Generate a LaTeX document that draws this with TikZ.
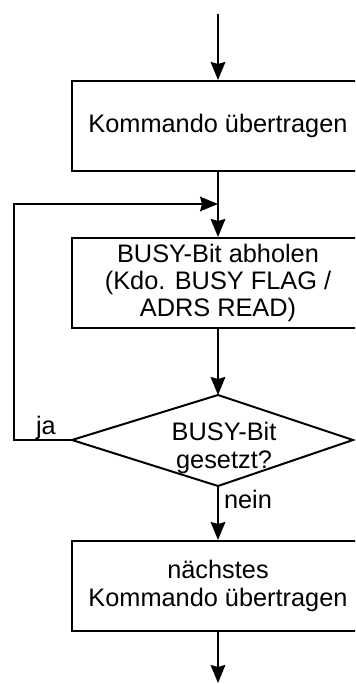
\documentclass[tikz,border=0pt]{standalone}
\usepackage{fontspec}
\setmainfont{Liberation Sans}
\usetikzlibrary{arrows.meta}

\tikzset{every picture/.style={line width=1.5pt}}
\tikzset{
  procbox/.style={draw, rectangle, minimum width=219pt, minimum height=67.5pt, align=center, inner sep=0pt, font=\fontsize{19}{20.5}\selectfont},
  flow/.style={-{Stealth[length=13.5pt,width=11pt,inset=1.5pt]}},
  lbl/.style={font=\fontsize{19}{20.5}\selectfont, inner sep=0pt}
}

\begin{document}
\begin{tikzpicture}[x=0.75pt,y=0.75pt,yscale=-1,xscale=1]
	\clip (0,0) rectangle (355,684); %picture window

	% Process boxes
	\coordinate (in) at (218,14);
	\node[procbox] (send) at (218,126) {Kommando übertragen};
	\coordinate (merge) at (218,204);
	\node[procbox] (busy) at (218,283) {BUSY-Bit abholen\\(Kdo. BUSY FLAG /\\ADRS READ)};
	\node[procbox] (next) at (218,586) {nächstes\\Kommando übertragen};
	\coordinate (out) at (218,683);

	% Decision [diamond]
	\coordinate (dtop) at (218,395);
	\coordinate (dright) at (353,440);
	\coordinate (dbot) at (218,486);
	\coordinate (dleft) at (72,440);
	\draw (dtop) -- (dright) -- (dbot) -- (dleft) -- cycle;
	\node[lbl, align=center] (test) at (224,448) {BUSY-Bit\\gesetzt?};

	%Straight Lines
	\draw[flow] (in) -- (send);
	\draw (send) -- (merge);
	\draw[flow] (merge) -- (busy);
	\draw[flow] (busy) -- (dtop);
	\draw[flow] (dbot) -- (next);
	\draw[flow] (next) -- (out);

	%Loop back
	\coordinate (lpa) at (14,440);
	\coordinate (lpb) at (14,204);
	\draw[flow, line width=1pt] (dleft) -- (lpa) -- (lpb) -- (merge);

	% Text Node
	\node[lbl, anchor=base west] (ja) at (35,434) {ja};
	% Text Node
	\node[lbl, anchor=base west] (nein) at (223,508) {nein};

\end{tikzpicture}
\end{document}
